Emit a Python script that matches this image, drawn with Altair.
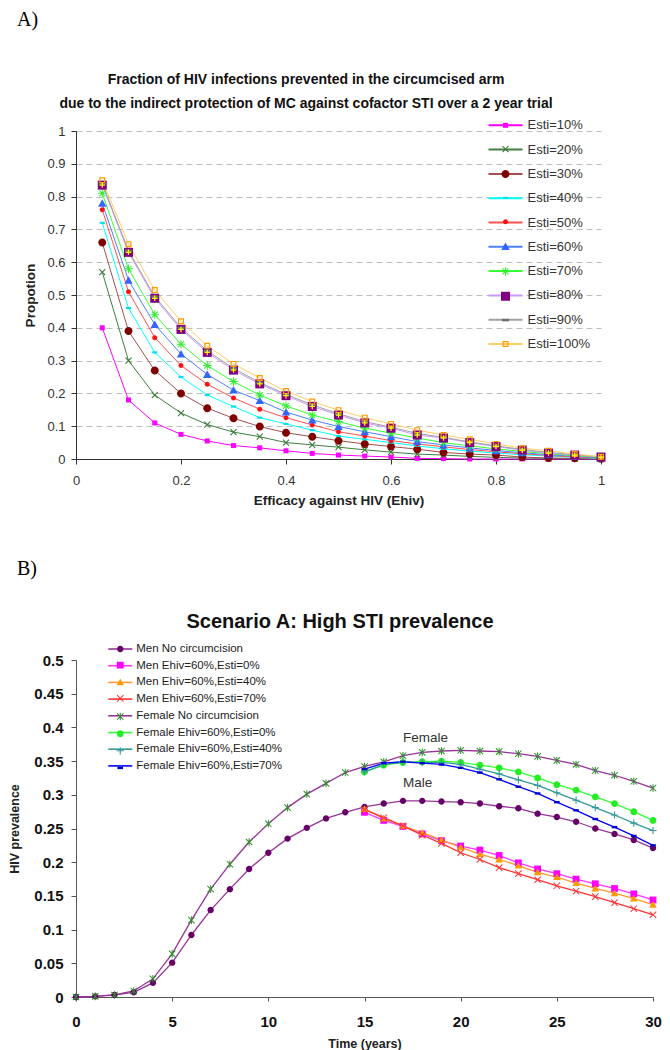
import math
import altair as alt
import pandas as pd

# ---------------- Panel A data ----------------
ehiv = [0.05, 0.1, 0.15, 0.2, 0.25, 0.3, 0.35, 0.4, 0.45, 0.5,
        0.55, 0.6, 0.65, 0.7, 0.75, 0.8, 0.85, 0.9, 0.95, 1.0]
esti_names = ["Esti=10%", "Esti=20%", "Esti=30%", "Esti=40%", "Esti=50%",
              "Esti=60%", "Esti=70%", "Esti=80%", "Esti=90%", "Esti=100%"]
esti10 = [0.40, 0.18, 0.11, 0.075, 0.055, 0.041, 0.034, 0.025, 0.017, 0.012,
          0.009, 0.006, 0.002, 0.001, 0.0, 0.0, 0.0, 0.0, 0.0, 0.0]
esti20 = [0.57, 0.30, 0.195, 0.14, 0.105, 0.082, 0.068, 0.05, 0.043, 0.036,
          0.028, 0.021, 0.015, 0.012, 0.008, 0.005, 0.003, 0.002, 0.001, 0.0]
esti30 = [0.66, 0.39, 0.27, 0.20, 0.155, 0.124, 0.099, 0.08, 0.068, 0.056,
          0.046, 0.038, 0.03, 0.02, 0.015, 0.012, 0.006, 0.003, 0.002, 0.001]
esti40 = [0.72, 0.46, 0.325, 0.25, 0.195, 0.16, 0.126, 0.107, 0.088, 0.07,
          0.06, 0.05, 0.04, 0.031, 0.024, 0.018, 0.013, 0.009, 0.005, 0.002]
esti50 = [0.76, 0.51, 0.37, 0.285, 0.228, 0.186, 0.152, 0.126, 0.104, 0.083,
          0.07, 0.056, 0.046, 0.037, 0.029, 0.022, 0.016, 0.011, 0.006, 0.003]
esti60 = [0.78, 0.545, 0.41, 0.32, 0.258, 0.21, 0.178, 0.143, 0.119, 0.099,
          0.083, 0.068, 0.053, 0.043, 0.034, 0.026, 0.019, 0.013, 0.008, 0.004]
esti70 = [0.81, 0.58, 0.44, 0.35, 0.285, 0.236, 0.195, 0.162, 0.134, 0.114,
          0.094, 0.079, 0.064, 0.05, 0.04, 0.031, 0.023, 0.016, 0.01, 0.005]
esti80 = [0.835, 0.63, 0.49, 0.395, 0.325, 0.271, 0.229, 0.193, 0.16, 0.134,
          0.11, 0.094, 0.073, 0.064, 0.05, 0.038, 0.027, 0.018, 0.012, 0.006]
esti90 = [0.84, 0.635, 0.495, 0.40, 0.33, 0.276, 0.233, 0.197, 0.165, 0.138,
          0.114, 0.097, 0.078, 0.066, 0.052, 0.04, 0.029, 0.02, 0.013, 0.006]
esti100 = [0.85, 0.655, 0.515, 0.42, 0.345, 0.29, 0.247, 0.207, 0.175, 0.149,
           0.126, 0.107, 0.088, 0.073, 0.06, 0.046, 0.033, 0.025, 0.015, 0.007]
esti_series = [esti10, esti20, esti30, esti40, esti50,
               esti60, esti70, esti80, esti90, esti100]
xA_ticks = [0, 0.2, 0.4, 0.6, 0.8, 1]
yA_ticks = [0, 0.1, 0.2, 0.3, 0.4, 0.5, 0.6, 0.7, 0.8, 0.9, 1]
titleA_lines = ["Fraction of HIV infections prevented in the circumcised arm",
                "due to the indirect protection of MC against cofactor STI over a 2 year trial"]

# ---------------- Panel B data ----------------
years = list(range(0, 31))
years_int = list(range(15, 31))
men_nocirc = [0, 0.001, 0.003, 0.007, 0.021, 0.051, 0.092, 0.129, 0.16, 0.19,
              0.214, 0.235, 0.251, 0.265, 0.274, 0.282, 0.287, 0.291, 0.291, 0.29,
              0.289, 0.287, 0.283, 0.28, 0.272, 0.267, 0.26, 0.25, 0.242, 0.233, 0.221]
men_e0 = [0.274, 0.262, 0.253, 0.242, 0.232, 0.224, 0.218, 0.21, 0.199, 0.19,
          0.183, 0.175, 0.168, 0.161, 0.153, 0.144]
men_e40 = [0.279, 0.265, 0.254, 0.244, 0.233, 0.222, 0.212, 0.204, 0.195, 0.185,
           0.178, 0.169, 0.161, 0.154, 0.146, 0.137]
men_e70 = [0.278, 0.266, 0.254, 0.24, 0.228, 0.214, 0.204, 0.192, 0.183, 0.174,
           0.165, 0.157, 0.149, 0.14, 0.131, 0.122]
fem_nocirc = [0, 0.001, 0.003, 0.009, 0.027, 0.064, 0.114, 0.16, 0.197, 0.23,
              0.257, 0.281, 0.301, 0.317, 0.333, 0.342, 0.349, 0.358, 0.363, 0.365,
              0.366, 0.365, 0.364, 0.361, 0.357, 0.351, 0.345, 0.336, 0.329, 0.32, 0.31]
fem_e0 = [0.334, 0.344, 0.348, 0.349, 0.35, 0.348, 0.344, 0.34, 0.334, 0.325,
          0.315, 0.307, 0.297, 0.287, 0.275, 0.262]
fem_e40 = [0.334, 0.345, 0.348, 0.348, 0.348, 0.345, 0.338, 0.331, 0.322, 0.314,
           0.303, 0.292, 0.281, 0.27, 0.258, 0.247]
fem_e70 = [0.338, 0.347, 0.349, 0.347, 0.345, 0.34, 0.333, 0.323, 0.312, 0.302,
           0.289, 0.277, 0.264, 0.252, 0.239, 0.225]
b_names = ["Men No circumcision", "Men Ehiv=60%,Esti=0%", "Men Ehiv=60%,Esti=40%",
           "Men Ehiv=60%,Esti=70%", "Female No circumcision", "Female Ehiv=60%,Esti=0%",
           "Female Ehiv=60%,Esti=40%", "Female Ehiv=60%,Esti=70%"]
b_series = [(years, men_nocirc), (years_int, men_e0), (years_int, men_e40),
            (years_int, men_e70), (years, fem_nocirc), (years_int, fem_e0),
            (years_int, fem_e40), (years_int, fem_e70)]
xB_ticks = [0, 5, 10, 15, 20, 25, 30]
yB_ticks = [0, 0.05, 0.1, 0.15, 0.2, 0.25, 0.3, 0.35, 0.4, 0.45, 0.5]
annot_text = ["Female", "Male"]
annot_t = [17, 17]
annot_v = [0.3845, 0.3175]
titleB_text = "Scenario A: High STI prevalence"

FONT = "Liberation Sans"

# ---------------- marker shapes (unit paths) ----------------
def n(v):
    return f"{round(v, 3):g}"

def rect(w, h):
    return f"M{n(-w)},{n(-h)}L{n(w)},{n(-h)}L{n(w)},{n(h)}L{n(-w)},{n(h)}Z"

def circle(r):
    return f"M{n(-r)},0A{n(r)},{n(r)},0,1,0,{n(r)},0A{n(r)},{n(r)},0,1,0,{n(-r)},0Z"

def bar(x1, y1, x2, y2, t):
    dx, dy = x2 - x1, y2 - y1
    L = math.hypot(dx, dy)
    nx, ny = -dy / L * t / 2, dx / L * t / 2
    return (f"M{n(x1+nx)},{n(y1+ny)}L{n(x2+nx)},{n(y2+ny)}"
            f"L{n(x2-nx)},{n(y2-ny)}L{n(x1-nx)},{n(y1-ny)}Z")

def xshape(a, t):
    return bar(-a, -a, a, a, t) + bar(-a, a, a, -a, t)

def plus(a, t):
    return bar(-a, 0, a, 0, t) + bar(0, -a, 0, a, t)

def ring(a, b):
    return (f"M{n(-a)},{n(-a)}L{n(a)},{n(-a)}L{n(a)},{n(a)}L{n(-a)},{n(a)}Z"
            f"M{n(-b)},{n(-b)}L{n(-b)},{n(b)}L{n(b)},{n(b)}L{n(b)},{n(-b)}Z")

shapesA = [rect(0.5, 0.5), xshape(0.6, 0.22), circle(0.8), rect(0.5, 0.22),
           circle(0.5), "M0,-0.8L0.85,0.7L-0.85,0.7Z",
           xshape(0.6, 0.2) + plus(0.85, 0.2), rect(0.9, 0.9), rect(0.7, 0.25),
           ring(0.6, 0.36)]
lineA_colors = ["#ff00ff", "#408040", "#a05050", "#00ffff", "#ff5050",
                "#4d7fff", "#33ff33", "#cc99ff", "#a0a0a0", "#ffcc66"]
markA_colors = ["#ff00ff", "#3a7a3a", "#800000", "#00e0f0", "#ff1010",
                "#3366ff", "#33ee33", "#800080", "#6e6e6e", "#ff9900"]
overA_colors = ["transparent"] * 7 + ["#ffff00"] + ["transparent"] * 2

shapesB = [circle(0.8), rect(0.85, 0.85), "M0,-0.9L0.95,0.75L-0.95,0.75Z",
           xshape(0.8, 0.25), xshape(0.8, 0.25) + bar(0, -0.95, 0, 0.95, 0.25),
           circle(0.85), plus(0.9, 0.28), rect(0.7, 0.3)]
lineB_colors = ["#993399", "#ff33ff", "#ff9933", "#ff3333",
                "#993399", "#33ff33", "#339999", "#0000ff"]
markB_colors = ["#660066", "#ff00ff", "#ff9900", "#ff3333",
                "#2e8b2e", "#22ee22", "#339999", "#0000cc"]

# ---------------- tables ----------------
rowsA = []
for i, (lab, vals) in enumerate(zip(esti_names, esti_series)):
    for xv, yv in zip(ehiv, vals):
        rowsA.append(dict(x=xv, y=yv, series=lab, s2=lab, s3=lab, order=i))
dfA = pd.DataFrame(rowsA)

rowsB = []
for i, (lab, (ts, vals)) in enumerate(zip(b_names, b_series)):
    for tv, yv in zip(ts, vals):
        rowsB.append(dict(t=tv, v=yv, series=lab, s2=lab, order=i))
dfB = pd.DataFrame(rowsB)
dfAnn = pd.DataFrame({"lab": annot_text, "t": annot_t, "v": annot_v})

sortO = alt.EncodingSortField(field="order", op="min")


def text_layer(txt, px, py, size, weight="normal", font=FONT, align="center",
               color="#111111"):
    return alt.Chart(pd.DataFrame({"s": [txt]})).mark_text(
        font=font, fontSize=size, fontWeight=weight, align=align,
        baseline="middle", color=color).encode(
        text="s:N", x=alt.value(px), y=alt.value(py))


# ---------------- Panel A ----------------
WA, HA = 525, 328

def legA(**kw):
    base = dict(orient="none", legendX=423, legendY=-12.2, direction="vertical",
                title=None, symbolSize=100, labelFontSize=13, labelFont=FONT,
                labelColor="#333333", labelOffset=15.5, rowPadding=10.3,
                padding=0, labelLimit=400)
    base.update(kw)
    return alt.Legend(**base)

xA = alt.X("x:Q", scale=alt.Scale(domain=[0, 1], nice=False),
           axis=alt.Axis(values=xA_ticks, tickCount=len(xA_ticks), format="~g",
                         grid=False, tickSize=5, labelFontSize=13,
                         labelColor="#333333", labelPadding=10, labelFlush=False,
                         labelOverlap=False, domainColor="#333333",
                         tickColor="#333333", title="Efficacy against HIV (Ehiv)",
                         titleFontSize=13.5, titleFontWeight="bold",
                         titleColor="#222222", titlePadding=6))
yA = alt.Y("y:Q", scale=alt.Scale(domain=[0, 1], nice=False),
           axis=alt.Axis(values=yA_ticks, tickCount=len(yA_ticks), format="~g",
                         grid=True, gridDash=[6, 4], gridColor="#bdbdbd",
                         tickSize=5, labelFontSize=13, labelColor="#333333",
                         labelPadding=6, labelOverlap=False, domainColor="#333333",
                         tickColor="#333333", title="Propotion",
                         titleFontSize=13.5, titleFontWeight="bold",
                         titleColor="#222222", titlePadding=9))

baseA = alt.Chart(dfA).encode(x=xA, y=yA)
lineA = baseA.mark_line(strokeWidth=1).encode(
    stroke=alt.Stroke("series:N", sort=sortO,
                      scale=alt.Scale(range=lineA_colors),
                      legend=legA(symbolType="M-3.4,0L3.4,0", symbolStrokeWidth=2,
                                  zindex=1)),
)
ptsA = baseA.mark_point(filled=True, size=100, opacity=1, strokeWidth=0).encode(
    fill=alt.Fill("s2:N", sort=sortO, scale=alt.Scale(range=markA_colors),
                  legend=legA(labelOpacity=0, zindex=2, rowPadding=9.85)),
    shape=alt.Shape("s2:N", sort=sortO, scale=alt.Scale(range=shapesA),
                    legend=legA(labelOpacity=0, zindex=2, rowPadding=9.85)),
)
ovA = baseA.mark_point(filled=True, size=100, opacity=1, strokeWidth=0,
                       shape=plus(0.55, 0.24)).encode(
    color=alt.Color("s3:N", sort=sortO, scale=alt.Scale(range=overA_colors),
                    legend=None),
)
tagA = text_layer("A)", -59, -111, 20, font="Liberation Serif", align="left",
                  color="black")
headA1 = text_layer(titleA_lines[0], 230, -51, 14, weight="bold")
headA2 = text_layer(titleA_lines[1], 230, -27, 14, weight="bold")

panelA = alt.layer(lineA, ptsA, ovA, tagA, headA1, headA2).properties(
    width=WA, height=HA)

# ---------------- Panel B ----------------
WB, HB = 577, 337

def legB(**kw):
    base = dict(orient="none", legendX=38.5, legendY=-16.75, direction="vertical",
                title=None, symbolSize=64, labelFontSize=11.5, labelFont=FONT,
                labelColor="#222222", labelOffset=10.25, rowPadding=3.7,
                padding=0, labelLimit=400)
    base.update(kw)
    return alt.Legend(**base)

xB = alt.X("t:Q", scale=alt.Scale(domain=[0, 30], nice=False),
           axis=alt.Axis(values=xB_ticks, tickCount=len(xB_ticks), format="~g",
                         grid=False, tickSize=4, labelFontSize=15,
                         labelFontWeight="bold", labelColor="#111111",
                         labelPadding=13, labelFlush=False, labelOverlap=False,
                         domainColor="#555555", tickColor="#555555",
                         title="Time (years)", titleFontSize=12.5,
                         titleFontWeight="bold", titleColor="#222222",
                         titlePadding=8))
yB = alt.Y("v:Q", scale=alt.Scale(domain=[0, 0.5], nice=False),
           axis=alt.Axis(values=yB_ticks, tickCount=len(yB_ticks), format="~g",
                         grid=False, tickSize=5, labelFontSize=15,
                         labelFontWeight="bold", labelColor="#111111",
                         labelPadding=8, labelOverlap=False, domainColor="#555555",
                         tickColor="#555555", title="HIV prevalence",
                         titleFontSize=12.5, titleFontWeight="bold",
                         titleColor="#222222", titlePadding=12.5))

baseB = alt.Chart(dfB).encode(x=xB, y=yB)
lineB = baseB.mark_line(strokeWidth=1.3).encode(
    stroke=alt.Stroke("series:N", sort=sortO, scale=alt.Scale(range=lineB_colors),
                      legend=legB(symbolType="M-3,0L3,0", symbolStrokeWidth=1.6,
                                  zindex=1)),
)
ptsB = baseB.mark_point(filled=True, size=64, opacity=1, strokeWidth=0).encode(
    fill=alt.Fill("s2:N", sort=sortO, scale=alt.Scale(range=markB_colors),
                  legend=legB(labelOpacity=0, zindex=2, rowPadding=3.13)),
    shape=alt.Shape("s2:N", sort=sortO, scale=alt.Scale(range=shapesB),
                    legend=legB(labelOpacity=0, zindex=2, rowPadding=3.13)),
)
annB = alt.Chart(dfAnn).mark_text(align="left", baseline="middle", fontSize=13.5,
                                  color="#333333", font=FONT).encode(
    x=alt.X("t:Q"), y=alt.Y("v:Q"), text="lab:N")
tagB = text_layer("B)", -59, -91, 20, font="Liberation Serif", align="left",
                  color="black")
headB = text_layer(titleB_text, 264, -38, 20, weight="bold")

panelB = alt.layer(lineB, ptsB, annB, tagB, headB).properties(width=WB, height=HB)

chart = alt.vconcat(panelA, panelB, spacing=52).resolve_scale(
    x="independent", y="independent", stroke="independent", fill="independent",
    shape="independent", color="independent").resolve_legend(
    stroke="independent", fill="independent", shape="independent",
    color="independent").properties(
    padding={"top": 2, "left": 0, "right": 0, "bottom": 0}).configure(
    font=FONT).configure_view(stroke=None)

chart.save("out.html", embed_options={"renderer": "svg", "actions": False})
